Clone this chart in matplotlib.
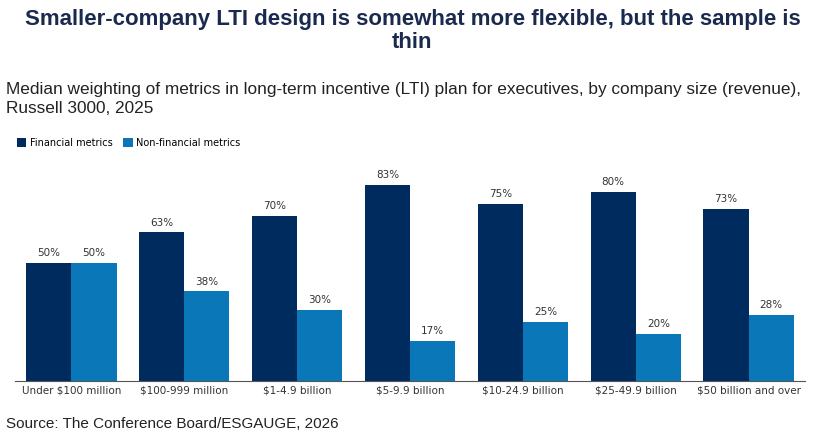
import matplotlib.pyplot as plt
import numpy as np

categories = ["Under $100 million", "$100-999 million", "$1-4.9 billion", "$5-9.9 billion",
              "$10-24.9 billion", "$25-49.9 billion", "$50 billion and over"]
financial = [50, 63, 70, 83, 75, 80, 73]
nonfinancial = [50, 38, 30, 17, 25, 20, 28]

c1, c2 = "#002b5f", "#0a78b8"
fig = plt.figure(figsize=(8.25, 4.42), dpi=100)
ax = fig.add_axes([15/825, 1-381/442, 790/825, 236/442])
x = np.arange(len(categories))
w = 0.4
b1 = ax.bar(x - w/2, financial, w, color=c1, label="Financial metrics")
b2 = ax.bar(x + w/2, nonfinancial, w, color=c2, label="Non-financial metrics")
for bars, vals in ((b1, financial), (b2, nonfinancial)):
    for r, v in zip(bars, vals):
        ax.text(r.get_x()+r.get_width()/2, v+2, f"{v}%", ha="center", va="bottom", fontsize=7.5, color="#333333")
ax.set_ylim(0, 100)
ax.set_xlim(-0.5, len(categories)-0.5)
ax.set_xticks(x)
ax.set_xticklabels(categories, fontsize=7.5, color="#333333")
ax.tick_params(axis="x", length=0)
ax.set_yticks([])
for s in ("top", "right", "left"):
    ax.spines[s].set_visible(False)
ax.spines["bottom"].set_color("#555555")

fig.text(0.5, 1-31/442, "Smaller-company LTI design is somewhat more flexible, but the sample is\nthin",
         ha="center", va="center", fontsize=16, fontweight="bold", color="#1a2a4f", linespacing=1.15, family="Liberation Sans")
fig.text(6/825, 1-99/442, "Median weighting of metrics in long-term incentive (LTI) plan for executives, by company size (revenue),\nRussell 3000, 2025",
         ha="left", va="center", fontsize=12.4, color="#222222", linespacing=1.3, family="Liberation Sans")
fig.legend(handles=[b1, b2], loc="center left", bbox_to_anchor=(8/825, 1-143/442), ncol=2, frameon=False,
           fontsize=7, handlelength=1.0, handleheight=1.0, columnspacing=1.0, handletextpad=0.4)
fig.text(6/825, 1-424/442, "Source: The Conference Board/ESGAUGE, 2026", ha="left", va="center",
         fontsize=11, color="#222222", family="Liberation Sans")
fig.savefig("out.png", dpi=100)
